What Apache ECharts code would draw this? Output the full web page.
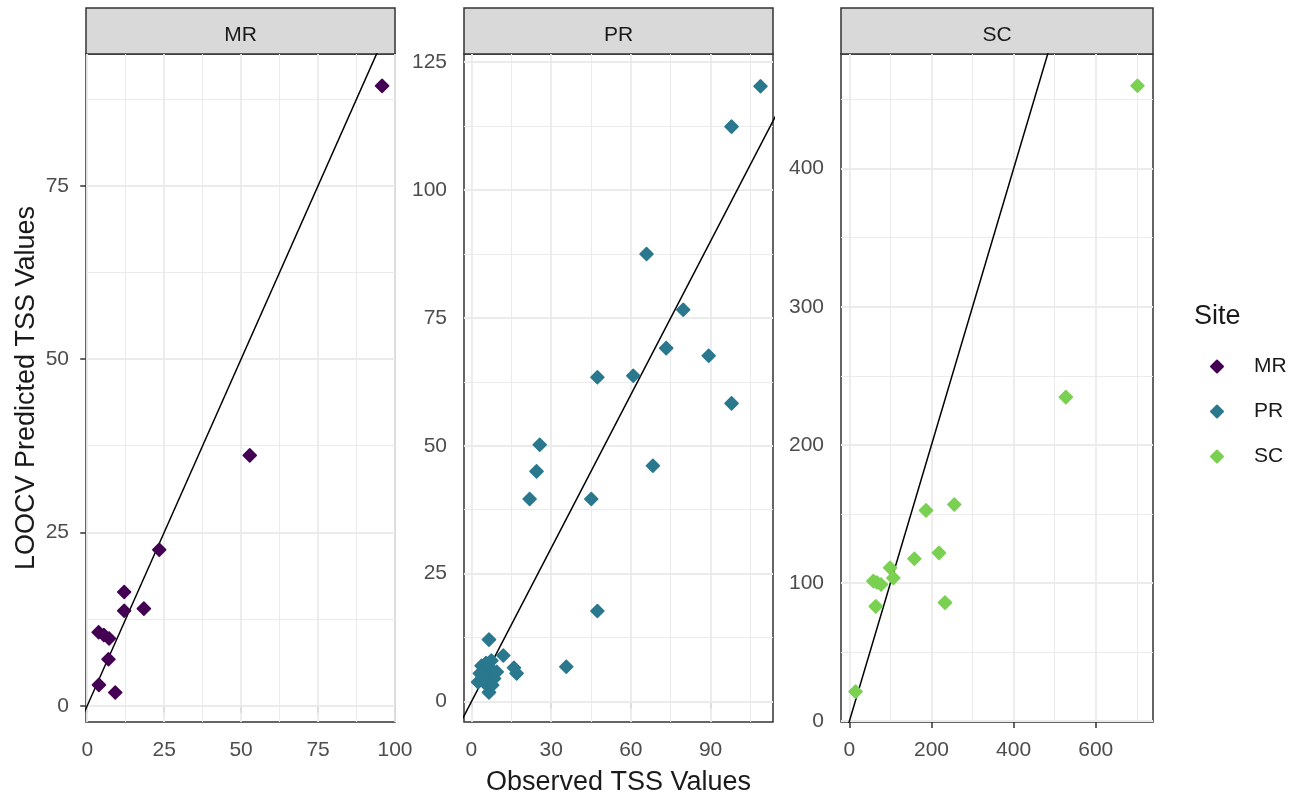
<!DOCTYPE html>
<html>
<head>
<meta charset="utf-8">
<script src="https://cdn.jsdelivr.net/npm/echarts@6/dist/echarts.min.js"></script>
<style>
html,body{margin:0;padding:0;background:#ffffff;}
#chart{width:1303px;height:796px;}
</style>
</head>
<body>
<div id="chart"></div>
<script>
// ---------------- data ----------------
const sites = ['MR', 'PR', 'SC'];
const siteColors = ['#440154', '#2A788E', '#7AD151'];

const mrObserved  = [95.8, 52.8, 23.4, 12.0, 12.0, 18.4, 3.7, 5.4, 7.1, 6.9, 3.8, 9.1];
const mrPredicted = [89.4, 36.1, 22.5, 16.4, 13.7, 14.0, 10.6, 10.2, 9.7, 6.7, 3.0, 1.9];

const prObserved  = [108.8, 97.9, 65.9, 79.7, 73.3, 89.3, 47.4, 60.9, 97.9, 25.7, 24.5, 21.9, 45.1, 68.3, 47.4, 35.7, 6.6, 12.0, 16.0, 17.0,
                     2.5, 3.2, 3.8, 4.5, 5.0, 5.5, 6.2, 6.6, 7.0, 7.5, 8.0, 8.5, 9.5, 7.8, 4.2];
const prPredicted = [120.3, 112.4, 87.5, 76.6, 69.1, 67.6, 63.4, 63.7, 58.3, 50.2, 45.0, 39.6, 39.6, 46.1, 17.7, 6.8, 12.1, 9.0, 6.6, 5.5,
                     3.8, 5.5, 7.0, 6.0, 4.2, 7.5, 3.0, 1.8, 5.0, 8.0, 6.0, 4.5, 5.8, 3.2, 4.8];

const scObserved  = [701.7, 527.2, 255.5, 186.6, 218.2, 158.2, 232.8, 99.0, 107.0, 58.4, 67.0, 77.0, 64.2, 15.0];
const scPredicted = [460.0, 234.5, 156.8, 152.5, 121.8, 117.5, 85.7, 111.0, 103.6, 101.3, 100.3, 98.9, 83.0, 21.3];

// axis limits and tick labels
const mrXRange = [-0.4, 100];   const mrYRange = [-2.35, 94.0];
const prXRange = [-2.8, 113.5]; const prYRange = [-4.0, 126.6];
const scXRange = [-20.5, 739.5]; const scYRange = [-0.7, 483];

const mrXTicks = [0, 25, 50, 75, 100];  const mrYTicks = [0, 25, 50, 75];
const prXTicks = [0, 30, 60, 90];       const prYTicks = [0, 25, 50, 75, 100, 125];
const scXTicks = [0, 200, 400, 600];    const scYTicks = [0, 100, 200, 300, 400];

const xTitle = 'Observed TSS Values';
const yTitle = 'LOOCV Predicted TSS Values';
const legendTitle = 'Site';

// ---------------- layout / style ----------------
const FONT = 'Liberation Sans';
const panelLayout = [
  { left: 86,  width: 309 },
  { left: 464, width: 309 },
  { left: 841, width: 312 }
];
const plotTop = 54, plotHeight = 668, stripTop = 8, stripHeight = 46;

const panels = [
  { obs: mrObserved, pred: mrPredicted, xr: mrXRange, yr: mrYRange, xt: mrXTicks, yt: mrYTicks },
  { obs: prObserved, pred: prPredicted, xr: prXRange, yr: prYRange, xt: prXTicks, yt: prYTicks },
  { obs: scObserved, pred: scPredicted, xr: scXRange, yr: scYRange, xt: scXTicks, yt: scYTicks }
];

function minorTicks(ticks, range) {
  const step = ticks[1] - ticks[0];
  const out = [];
  const cand = [ticks[0] - step / 2].concat(ticks.map(v => v + step / 2));
  cand.forEach(v => { if (v > range[0] && v < range[1]) out.push(v); });
  return out;
}

const grids = [], xAxes = [], yAxes = [], series = [], graphics = [];

panels.forEach((p, i) => {
  const L = panelLayout[i];
  grids.push({
    left: L.left, top: plotTop, width: L.width, height: plotHeight,
    show: true, borderColor: '#333333', borderWidth: 1.5, backgroundColor: '#ffffff',
    containLabel: false, outerBoundsMode: 'none'
  });
  const tickStyle = { show: true, inside: false, length: 7, lineStyle: { color: '#333333', width: 1.5 } };
  xAxes.push({
    gridIndex: i, type: 'value', min: p.xr[0], max: p.xr[1],
    axisLine: { show: false },
    axisTick: Object.assign({ customValues: p.xt }, tickStyle),
    axisLabel: { customValues: p.xt, color: '#4D4D4D', fontSize: 21, fontFamily: FONT, margin: 18 },
    splitLine: { show: false },
    name: i === 1 ? xTitle : '',
    nameLocation: 'middle', nameGap: 47,
    nameTextStyle: { fontSize: 27, color: '#1A1A1A', fontFamily: FONT }
  });
  yAxes.push({
    gridIndex: i, type: 'value', min: p.yr[0], max: p.yr[1],
    axisLine: { show: false },
    axisTick: Object.assign({ customValues: p.yt }, tickStyle),
    axisLabel: { customValues: p.yt, color: '#4D4D4D', fontSize: 21, fontFamily: FONT, margin: 17 },
    splitLine: { show: false },
    name: i === 0 ? yTitle : '',
    nameLocation: 'middle', nameGap: 46, nameRotate: 90,
    nameTextStyle: { fontSize: 27, color: '#1A1A1A', fontFamily: FONT }
  });

  // grid lines (major + minor) through the axes
  const gl = [];
  const major = { color: '#EBEBEB', width: 1.8, type: 'solid' };
  const minor = { color: '#EBEBEB', width: 1.0, type: 'solid' };
  minorTicks(p.xt, p.xr).forEach(v => gl.push({ xAxis: v, lineStyle: minor }));
  minorTicks(p.yt, p.yr).forEach(v => gl.push({ yAxis: v, lineStyle: minor }));
  p.xt.filter(v => v >= p.xr[0] && v <= p.xr[1]).forEach(v => gl.push({ xAxis: v, lineStyle: major }));
  p.yt.filter(v => v >= p.yr[0] && v <= p.yr[1]).forEach(v => gl.push({ yAxis: v, lineStyle: major }));
  series.push({
    name: 'grid' + i, type: 'line', xAxisIndex: i, yAxisIndex: i, data: [],
    silent: true, z: 1,
    markLine: {
      silent: true, symbol: ['none', 'none'], label: { show: false }, animation: false,
      emphasis: { disabled: true }, z: 1, data: gl
    }
  });

  // 1:1 reference line
  const lo = Math.min(p.xr[0], p.yr[0]), hi = Math.max(p.xr[1], p.yr[1]);
  series.push({
    name: 'ref' + i, type: 'line', xAxisIndex: i, yAxisIndex: i,
    data: [[lo, lo], [hi, hi]], symbol: 'none', clip: true, silent: true, z: 8,
    lineStyle: { color: '#000000', width: 1.5 }, animation: false
  });

  // points
  series.push({
    name: sites[i], type: 'scatter', xAxisIndex: i, yAxisIndex: i,
    data: p.obs.map((x, k) => [x, p.pred[k]]),
    symbol: 'diamond', symbolSize: 13, z: 10,
    itemStyle: { color: siteColors[i], borderColor: siteColors[i], borderWidth: 1.6, borderJoin: 'round', opacity: 1 },
    animation: false
  });

  // facet strip
  graphics.push({
    type: 'rect', silent: true,
    shape: { x: L.left, y: stripTop, width: L.width, height: stripHeight },
    style: { fill: '#D9D9D9', stroke: '#333333', lineWidth: 1.5 }
  });
  graphics.push({
    type: 'text', silent: true,
    style: { text: sites[i], x: L.left + L.width / 2, y: stripTop + stripHeight / 2 + 4,
             align: 'center', verticalAlign: 'middle', fontSize: 21, fontFamily: FONT, fill: '#1A1A1A' }
  });
});

const option = {
  backgroundColor: '#ffffff',
  animation: false,
  textStyle: { fontFamily: FONT },
  title: {
    text: legendTitle, left: 1194, top: 303, padding: 0,
    textStyle: { fontSize: 27, fontWeight: 'normal', color: '#1A1A1A', fontFamily: FONT }
  },
  legend: {
    orient: 'vertical', left: 1210, top: 356, padding: 0,
    itemWidth: 12, itemHeight: 12, itemGap: 24,
    textStyle: { fontSize: 21, color: '#1A1A1A', fontFamily: FONT, padding: [0, 0, 0, 26] },
    data: sites.map(s => ({ name: s, icon: 'diamond' })),
    selectedMode: false
  },
  grid: grids,
  xAxis: xAxes,
  yAxis: yAxes,
  series: series,
  graphic: graphics
};

const chart = echarts.init(document.getElementById('chart'), null, { renderer: 'canvas' });
chart.setOption(option);
</script>
</body>
</html>
